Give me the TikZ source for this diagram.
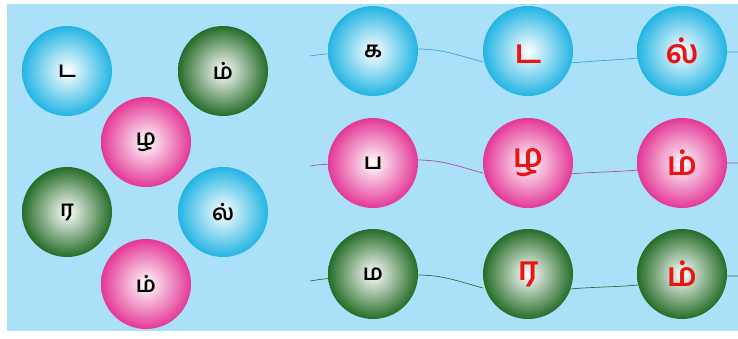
\documentclass[tikz,border=0pt]{standalone}
\usepackage{fontspec}
\newfontfamily\tamil[Script=Tamil]{Hind Madurai}
\usepackage{tikz}
\usetikzlibrary{positioning}

\definecolor{panelblue}{RGB}{170,225,248}
\definecolor{ballblue}{RGB}{35,180,228}
\definecolor{ballpink}{RGB}{228,55,150}
\definecolor{ballgreen}{RGB}{38,108,40}
\definecolor{lineblue}{RGB}{60,165,205}
\definecolor{linepink}{RGB}{165,80,165}
\definecolor{linegreen}{RGB}{40,110,70}
\definecolor{letterred}{RGB}{235,20,20}

\begin{document}
\begin{tikzpicture}[
  x=1pt, y=-1pt,
  ball/.style={circle, minimum size=90pt, inner sep=0pt,
    shading=radial, inner color=white},
  blueball/.style={ball, outer color=ballblue},
  pinkball/.style={ball, outer color=ballpink},
  greenball/.style={ball, outer color=ballgreen},
  letter/.style={font=\tamil\bfseries\fontsize{22}{22}\selectfont, text=black},
  redletter/.style={font=\tamil\bfseries\fontsize{33}{33}\selectfont, text=letterred},
  thread/.style={line width=0.7pt}
]
\useasboundingbox (0,0) rectangle (738,338);
\fill[white] (0,0) rectangle (738,338);
\fill[panelblue] (7,4) rectangle (738,331);

% loose letters
\node[blueball]  (lt) at (67,71)   {};
\node[letter] at (lt) {ட};
\node[greenball] (lm) at (223,71)  {};
\node[letter] at (lm) {ம்};
\node[pinkball]  (lz) at (146,142) {};
\node[letter] at (lz) {ழ};
\node[greenball] (lr) at (67,212)  {};
\node[letter] at (lr) {ர};
\node[blueball]  (ll) at (223,212) {};
\node[letter] at (ll) {ல்};
\node[pinkball]  (lm2) at (146,284) {};
\node[letter] at (lm2) {ம்};

% word strings
\coordinate (s1) at (310,56);
\coordinate (e1) at (738,52);
\coordinate (s2) at (310,166);
\coordinate (e2) at (738,163);
\coordinate (s3) at (310,281);
\coordinate (e3) at (738,276);

\draw[thread, lineblue] (s1) to[out=10,in=190] (373,51)
  (417,49) to[out=0,in=165] (483,62)
  (570,63) to[out=5,in=185] (638,58)
  (727,52) -- (e1);
\draw[thread, linepink] (s2) to[out=10,in=190] (373,163)
  (417,160) to[out=0,in=165] (483,173)
  (570,174) to[out=5,in=185] (638,170)
  (727,163) -- (e2);
\draw[thread, linegreen] (s3) to[out=10,in=190] (373,274)
  (417,275) to[out=0,in=165] (483,288)
  (570,289) to[out=5,in=185] (638,285)
  (727,276) -- (e3);

\node[blueball]  (k)  at (373,51)  {};
\node[letter] at (k) {க};
\node[blueball]  (kd) at (528,51)  {};
\node[redletter] at ([yshift=-3pt]kd.center) {ட};
\node[blueball]  (kl) at (682,51)  {};
\node[redletter] at (kl) {ல்};

\node[pinkball]  (p)  at (373,163) {};
\node[letter] at (p) {ப};
\node[pinkball]  (pz) at (528,163) {};
\node[redletter] at (pz) {ழ};
\node[pinkball]  (pm) at (682,163) {};
\node[redletter] at (pm) {ம்};

\node[greenball] (m)  at (373,274) {};
\node[letter] at (m) {ம};
\node[greenball] (mr) at (528,274) {};
\node[redletter] at (mr) {ர};
\node[greenball] (mm) at (682,274) {};
\node[redletter] at (mm) {ம்};
\end{tikzpicture}
\end{document}
